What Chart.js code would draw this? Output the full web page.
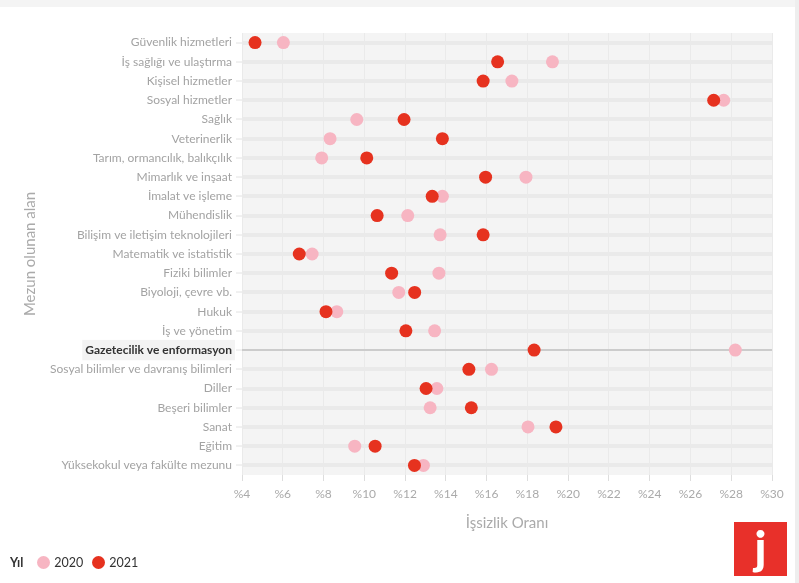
<!DOCTYPE html>
<html><head><meta charset="utf-8">
<script src="https://cdn.jsdelivr.net/npm/chart.js@4.4.0/dist/chart.umd.min.js"></script>
<style>
html,body{margin:0;padding:0;background:#fff;width:799px;height:583px;overflow:hidden;font-family:Lato,"Open Sans",sans-serif;}
#wrap{position:absolute;left:0;top:0;width:799px;height:583px;}
#topband{position:absolute;left:0;top:0;width:799px;height:7px;background:#f4f4f4;}
#rightband{position:absolute;left:795px;top:0;width:4px;height:583px;background:#eeeeee;}
#legend{position:absolute;left:10px;top:555px;font-size:12.5px;color:#333;display:flex;align-items:center;}
#legend .t{font-weight:bold;margin-right:14px;}
#legend .dot{width:13px;height:13px;border-radius:50%;display:inline-block;margin-right:4px;}
#legend .it{display:flex;align-items:center;margin-right:9px;}
#logo{position:absolute;left:734px;top:522px;width:53px;height:54px;background:#e8302a;color:#fff;font-family:Lato,sans-serif;font-weight:900;font-size:46px;text-align:center;line-height:50px;}
</style></head>
<body>
<div id="topband"></div>
<div id="rightband"></div>
<div id="wrap"><canvas id="c" width="799" height="583"></canvas></div>
<div id="legend"><span class="t">Yıl</span><span class="it"><span class="dot" style="background:#f7b5c2"></span>2020</span><span class="it"><span class="dot" style="background:#e6321f"></span>2021</span></div>
<div id="logo">j</div>
<script>
const categories = ["Güvenlik hizmetleri","İş sağlığı ve ulaştırma","Kişisel hizmetler","Sosyal hizmetler","Sağlık","Veterinerlik","Tarım, ormancılık, balıkçılık","Mimarlık ve inşaat","İmalat ve işleme","Mühendislik","Bilişim ve iletişim teknolojileri","Matematik ve istatistik","Fiziki bilimler","Biyoloji, çevre vb.","Hukuk","İş ve yönetim","Gazetecilik ve enformasyon","Sosyal bilimler ve davranış bilimleri","Diller","Beşeri bilimler","Sanat","Eğitim","Yüksekokul veya fakülte mezunu"];
const values2020 = [6.03,19.23,17.24,27.63,9.63,8.32,7.91,17.93,13.83,12.13,13.72,7.44,13.66,11.69,8.65,13.45,28.2,16.24,13.56,13.23,18.03,9.53,12.9];
const values2021 = [4.64,16.54,15.83,27.14,11.95,13.83,10.12,15.95,13.33,10.63,15.83,6.81,11.34,12.47,8.12,12.04,18.33,15.13,13.03,15.25,19.4,10.53,12.46];
const seriesNames = ["2020","2021"];
const highlighted = "Gazetecilik ve enformasyon";
const xMin = 4, xMax = 30, xStep = 2;

const hiIndex = categories.indexOf(highlighted);
const bgPlugin = {
  id:'bg',
  beforeDraw(chart){
    const {ctx, chartArea:a} = chart;
    ctx.save(); ctx.fillStyle='#f4f4f4';
    ctx.fillRect(a.left, a.top, a.right-a.left, a.bottom-a.top);
    ctx.restore();
  }
};
new Chart(document.getElementById('c'), {
  type:'scatter',
  data:{
    labels: categories,
    datasets:[
      {label:seriesNames[0], data: categories.map((c,i)=>({x:values2020[i], y:c})), backgroundColor:'#f7b5c2', borderWidth:0, pointRadius:6.5, order:1},
      {label:seriesNames[1], data: categories.map((c,i)=>({x:values2021[i], y:c})), backgroundColor:'#e6321f', borderWidth:0, pointRadius:6.5, order:0}
    ]
  },
  plugins:[bgPlugin],
  options:{
    responsive:false, animation:false,
    layout:{padding:{top:33,right:27,bottom:0,left:0}},
    plugins:{legend:{display:false}, tooltip:{enabled:false}},
    scales:{
      x:{
        type:'linear', min:xMin, max:xMax,
        afterFit(s){ s.height = 108; },
        border:{display:false},
        grid:{color:'#eaeaea', lineWidth:1, tickLength:6, tickColor:'#dddddd'},
        ticks:{stepSize:xStep, color:'#aaaaaa', padding:6, font:{family:'Lato', size:12}, callback:v=>'%'+v},
        title:{display:true, text:'İşsizlik Oranı', color:'#aaaaaa', font:{family:'Lato', size:15}, padding:{top:0,bottom:51}}
      },
      y:{
        type:'category', labels: categories, offset:true,
        afterFit(s){ s.width = 242; },
        border:{display:false},
        grid:{
          offset:false,
          color:ctx=> ctx.index===hiIndex ? '#cccccc' : '#eaeaea',
          lineWidth:ctx=> ctx.index===hiIndex ? 2 : 4,
          tickLength:6, tickColor:'#e2e2e2', tickWidth:1
        },
        ticks:{
          color:ctx=> ctx.index===hiIndex ? '#333333' : '#a3a3a3',
          padding:4,
          font:ctx=> ({family:'Lato', size:12, weight: ctx.index===hiIndex ? 'bold' : 'normal'}),
          showLabelBackdrop:ctx=> ctx.index===hiIndex,
          backdropColor:'#f3f3f3',
          backdropPadding:{top:3,bottom:3,left:3,right:3}
        },
        title:{display:true, text:'Mezun olunan alan', color:'#aaaaaa', font:{family:'Lato', size:15}, padding:{top:21,bottom:0}}
      }
    }
  }
});
</script>
</body></html>
